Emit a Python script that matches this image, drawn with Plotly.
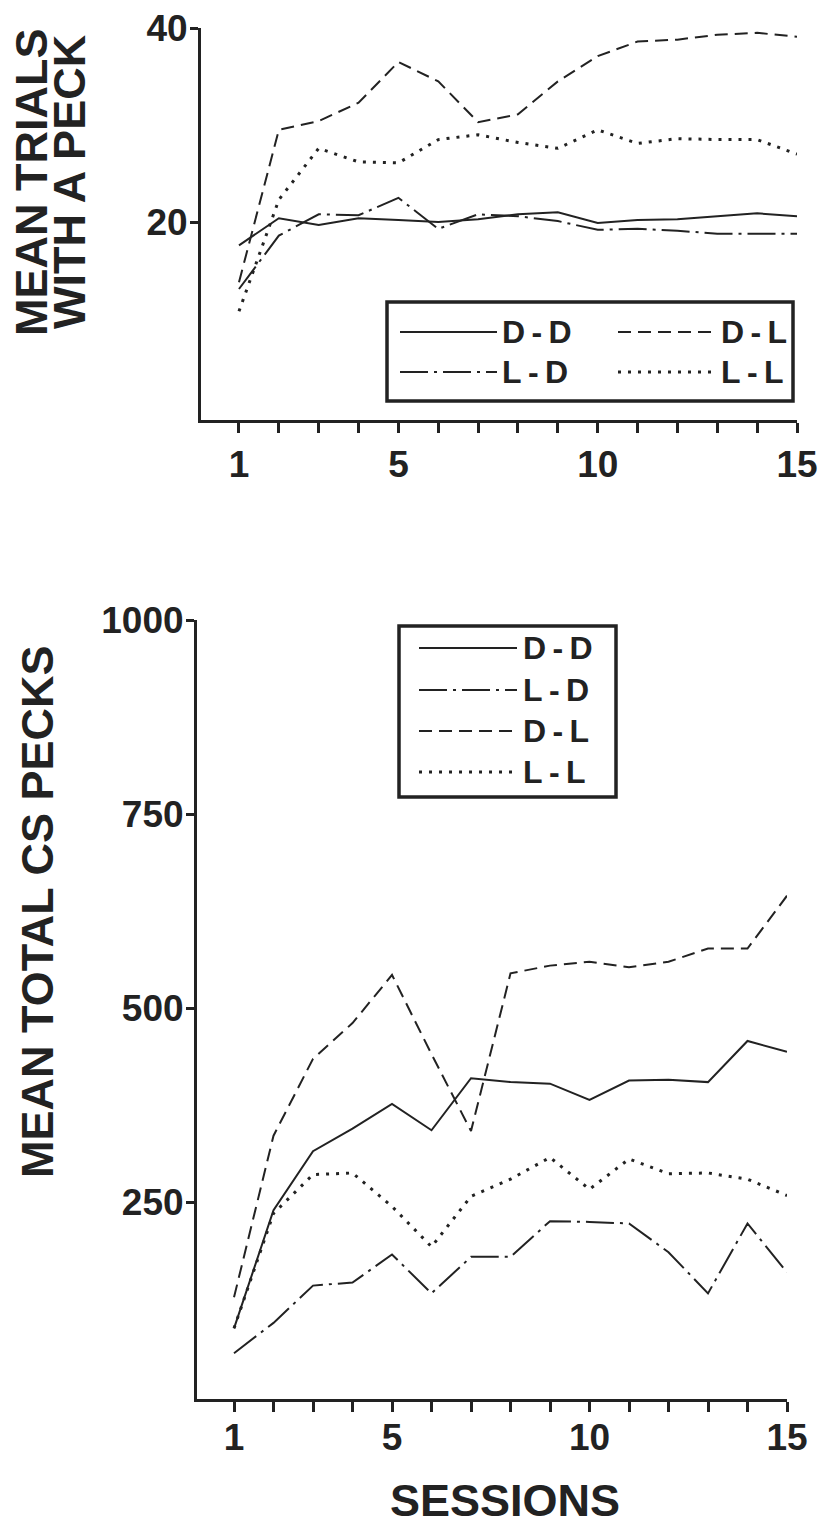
import plotly.graph_objects as go

W, H = 819, 1537

sessions = list(range(1, 16))
x_tick_labels = ["1", "", "", "", "5", "", "", "", "", "10", "", "", "", "", "15"]

# Top panel: mean trials with a peck
top_dd = [17.6, 20.4, 19.7, 20.4, 20.2, 20.0, 20.3, 20.8, 21.0, 19.9, 20.2, 20.3, 20.6, 20.9, 20.6]
top_ld = [13.1, 18.6, 20.8, 20.7, 22.5, 19.3, 20.8, 20.6, 20.1, 19.2, 19.3, 19.1, 18.8, 18.8, 18.8]
top_dl = [13.8, 29.5, 30.4, 32.3, 36.5, 34.5, 30.3, 31.1, 34.5, 37.1, 38.6, 38.8, 39.3, 39.5, 39.1]
top_ll = [10.8, 22.3, 27.6, 26.2, 26.1, 28.5, 29.0, 28.2, 27.6, 29.5, 28.1, 28.6, 28.5, 28.5, 27.0]
top_yticks = [20, 40]

# Bottom panel: mean total CS pecks
bot_dd = [88, 240, 316, 345, 377, 343, 410, 405, 403, 382, 407, 408, 405, 458, 444]
bot_ld = [56, 95, 143, 147, 183, 133, 180, 180, 226, 225, 223, 186, 133, 223, 160]
bot_dl = [128, 336, 435, 481, 543, 441, 342, 545, 555, 560, 553, 560, 577, 577, 645]
bot_ll = [88, 236, 286, 288, 245, 193, 258, 280, 308, 267, 306, 287, 288, 280, 259]
bot_yticks = [250, 500, 750, 1000]

group_names = ["D-D", "L-D", "D-L", "L-L"]

INK = "#222222"
FONT = "Liberation Sans, Arial, Helvetica, sans-serif"
styles = {
    "D-D": dict(color=INK, width=2, dash="solid"),
    "L-D": dict(color=INK, width=2, dash="28px,6px,3px,6px"),
    "D-L": dict(color=INK, width=2, dash="13px,7px"),
    "L-L": dict(color=INK, width=3, dash="3px,7px"),
}


def px(x):
    return x / W


def py(y):
    return 1 - y / H


fig = go.Figure()

top_series = {"D-D": top_dd, "L-D": top_ld, "D-L": top_dl, "L-L": top_ll}
bot_series = {"D-D": bot_dd, "L-D": bot_ld, "D-L": bot_dl, "L-L": bot_ll}

for name in group_names:
    fig.add_trace(go.Scatter(x=sessions, y=top_series[name], mode="lines", name=name,
                             line=styles[name], xaxis="x", yaxis="y", showlegend=False))
for name in group_names:
    fig.add_trace(go.Scatter(x=sessions, y=bot_series[name], mode="lines", name=name,
                             line=styles[name], xaxis="x2", yaxis="y2", showlegend=False))

tickfont = dict(family=FONT, size=37, color=INK, weight="bold")
xcommon = dict(tickmode="array", tickvals=sessions, ticktext=x_tick_labels,
               ticks="outside", ticklen=10, tickwidth=2.5, tickcolor=INK,
               showline=True, linewidth=3, linecolor=INK, showgrid=False,
               zeroline=False, tickfont=tickfont, fixedrange=True, automargin=False,
               ticklabeloverflow="allow")
ycommon = dict(ticks="outside", ticklen=8, tickwidth=2.5, tickcolor=INK,
               showline=True, linewidth=3, linecolor=INK, showgrid=False,
               zeroline=False, tickfont=tickfont, fixedrange=True, automargin=False,
               ticklabeloverflow="allow", ticklabelstandoff=-5)

fig.update_layout(
    template="none",
    width=W, height=H,
    margin=dict(l=0, r=0, t=0, b=0, pad=0, autoexpand=False),
    paper_bgcolor="white", plot_bgcolor="white",
    showlegend=False,
    xaxis=dict(domain=[px(201), px(797)], range=[0.047, 15], anchor="y", **xcommon),
    yaxis=dict(domain=[py(420), py(28)], range=[-0.4, 40], anchor="x",
               tickmode="array", tickvals=top_yticks, **ycommon),
    xaxis2=dict(domain=[px(197), px(787)], range=[0.063, 15], anchor="y2",
                ticklabelstandoff=-6, **xcommon),
    yaxis2=dict(domain=[py(1399), py(620)], range=[-3, 1000], anchor="x2",
                tickmode="array", tickvals=bot_yticks, **ycommon),
)

titlefont = dict(family=FONT, size=45, color=INK, weight="bold")
annotations = [
    dict(text="MEAN TRIALS", x=px(32), y=py(182), textangle=-90),
    dict(text="WITH A PECK", x=px(70), y=py(182), textangle=-90),
    dict(text="MEAN TOTAL CS PECKS", x=px(37), y=py(912), textangle=-90),
    dict(text="SESSIONS", x=px(505), y=py(1500), textangle=0),
]
shapes = []

legfont = dict(family=FONT, size=32, color=INK, weight="bold")
SEP = "\u2009-\u2009"

# Top legend box (two columns)
shapes.append(dict(type="rect", xref="paper", yref="paper",
                   x0=px(387), x1=px(793), y0=py(401), y1=py(302),
                   line=dict(color=INK, width=3.5), fillcolor="white"))
top_leg = [("D-D", 400, 497, 332), ("L-D", 400, 497, 372),
           ("D-L", 618, 716, 332), ("L-L", 618, 716, 372)]
for name, xa, xb, yy in top_leg:
    st = styles[name]
    shapes.append(dict(type="line", xref="paper", yref="paper",
                       x0=px(xa), x1=px(xb), y0=py(yy), y1=py(yy),
                       line=dict(color=INK, width=st["width"], dash=st["dash"])))
    annotations.append(dict(text=name.replace("-", SEP), x=px(xb + 3), y=py(yy),
                            xanchor="left", font=legfont))

# Bottom legend box (one column)
shapes.append(dict(type="rect", xref="paper", yref="paper",
                   x0=px(399), x1=px(616), y0=py(797), y1=py(626),
                   line=dict(color=INK, width=3.5), fillcolor="white"))
bot_leg = [("D-D", 648), ("L-D", 690), ("D-L", 731), ("L-L", 772)]
for name, yy in bot_leg:
    st = styles[name]
    shapes.append(dict(type="line", xref="paper", yref="paper",
                       x0=px(419), x1=px(517), y0=py(yy), y1=py(yy),
                       line=dict(color=INK, width=st["width"], dash=st["dash"])))
    annotations.append(dict(text=name.replace("-", SEP), x=px(521), y=py(yy),
                            xanchor="left", font=legfont))

for a in annotations:
    a.setdefault("xref", "paper")
    a.setdefault("yref", "paper")
    a.setdefault("showarrow", False)
    a.setdefault("font", titlefont)
    a.setdefault("xanchor", "center")
    a.setdefault("yanchor", "middle")

fig.update_layout(annotations=annotations, shapes=shapes)

# remove the browser's default 8px page margin so the 819x1537 figure fills the window
fig.write_html("out.html",
               config={"displayModeBar": False},
               post_script="document.body.style.margin='0';"
                           "document.body.style.overflow='hidden';")
